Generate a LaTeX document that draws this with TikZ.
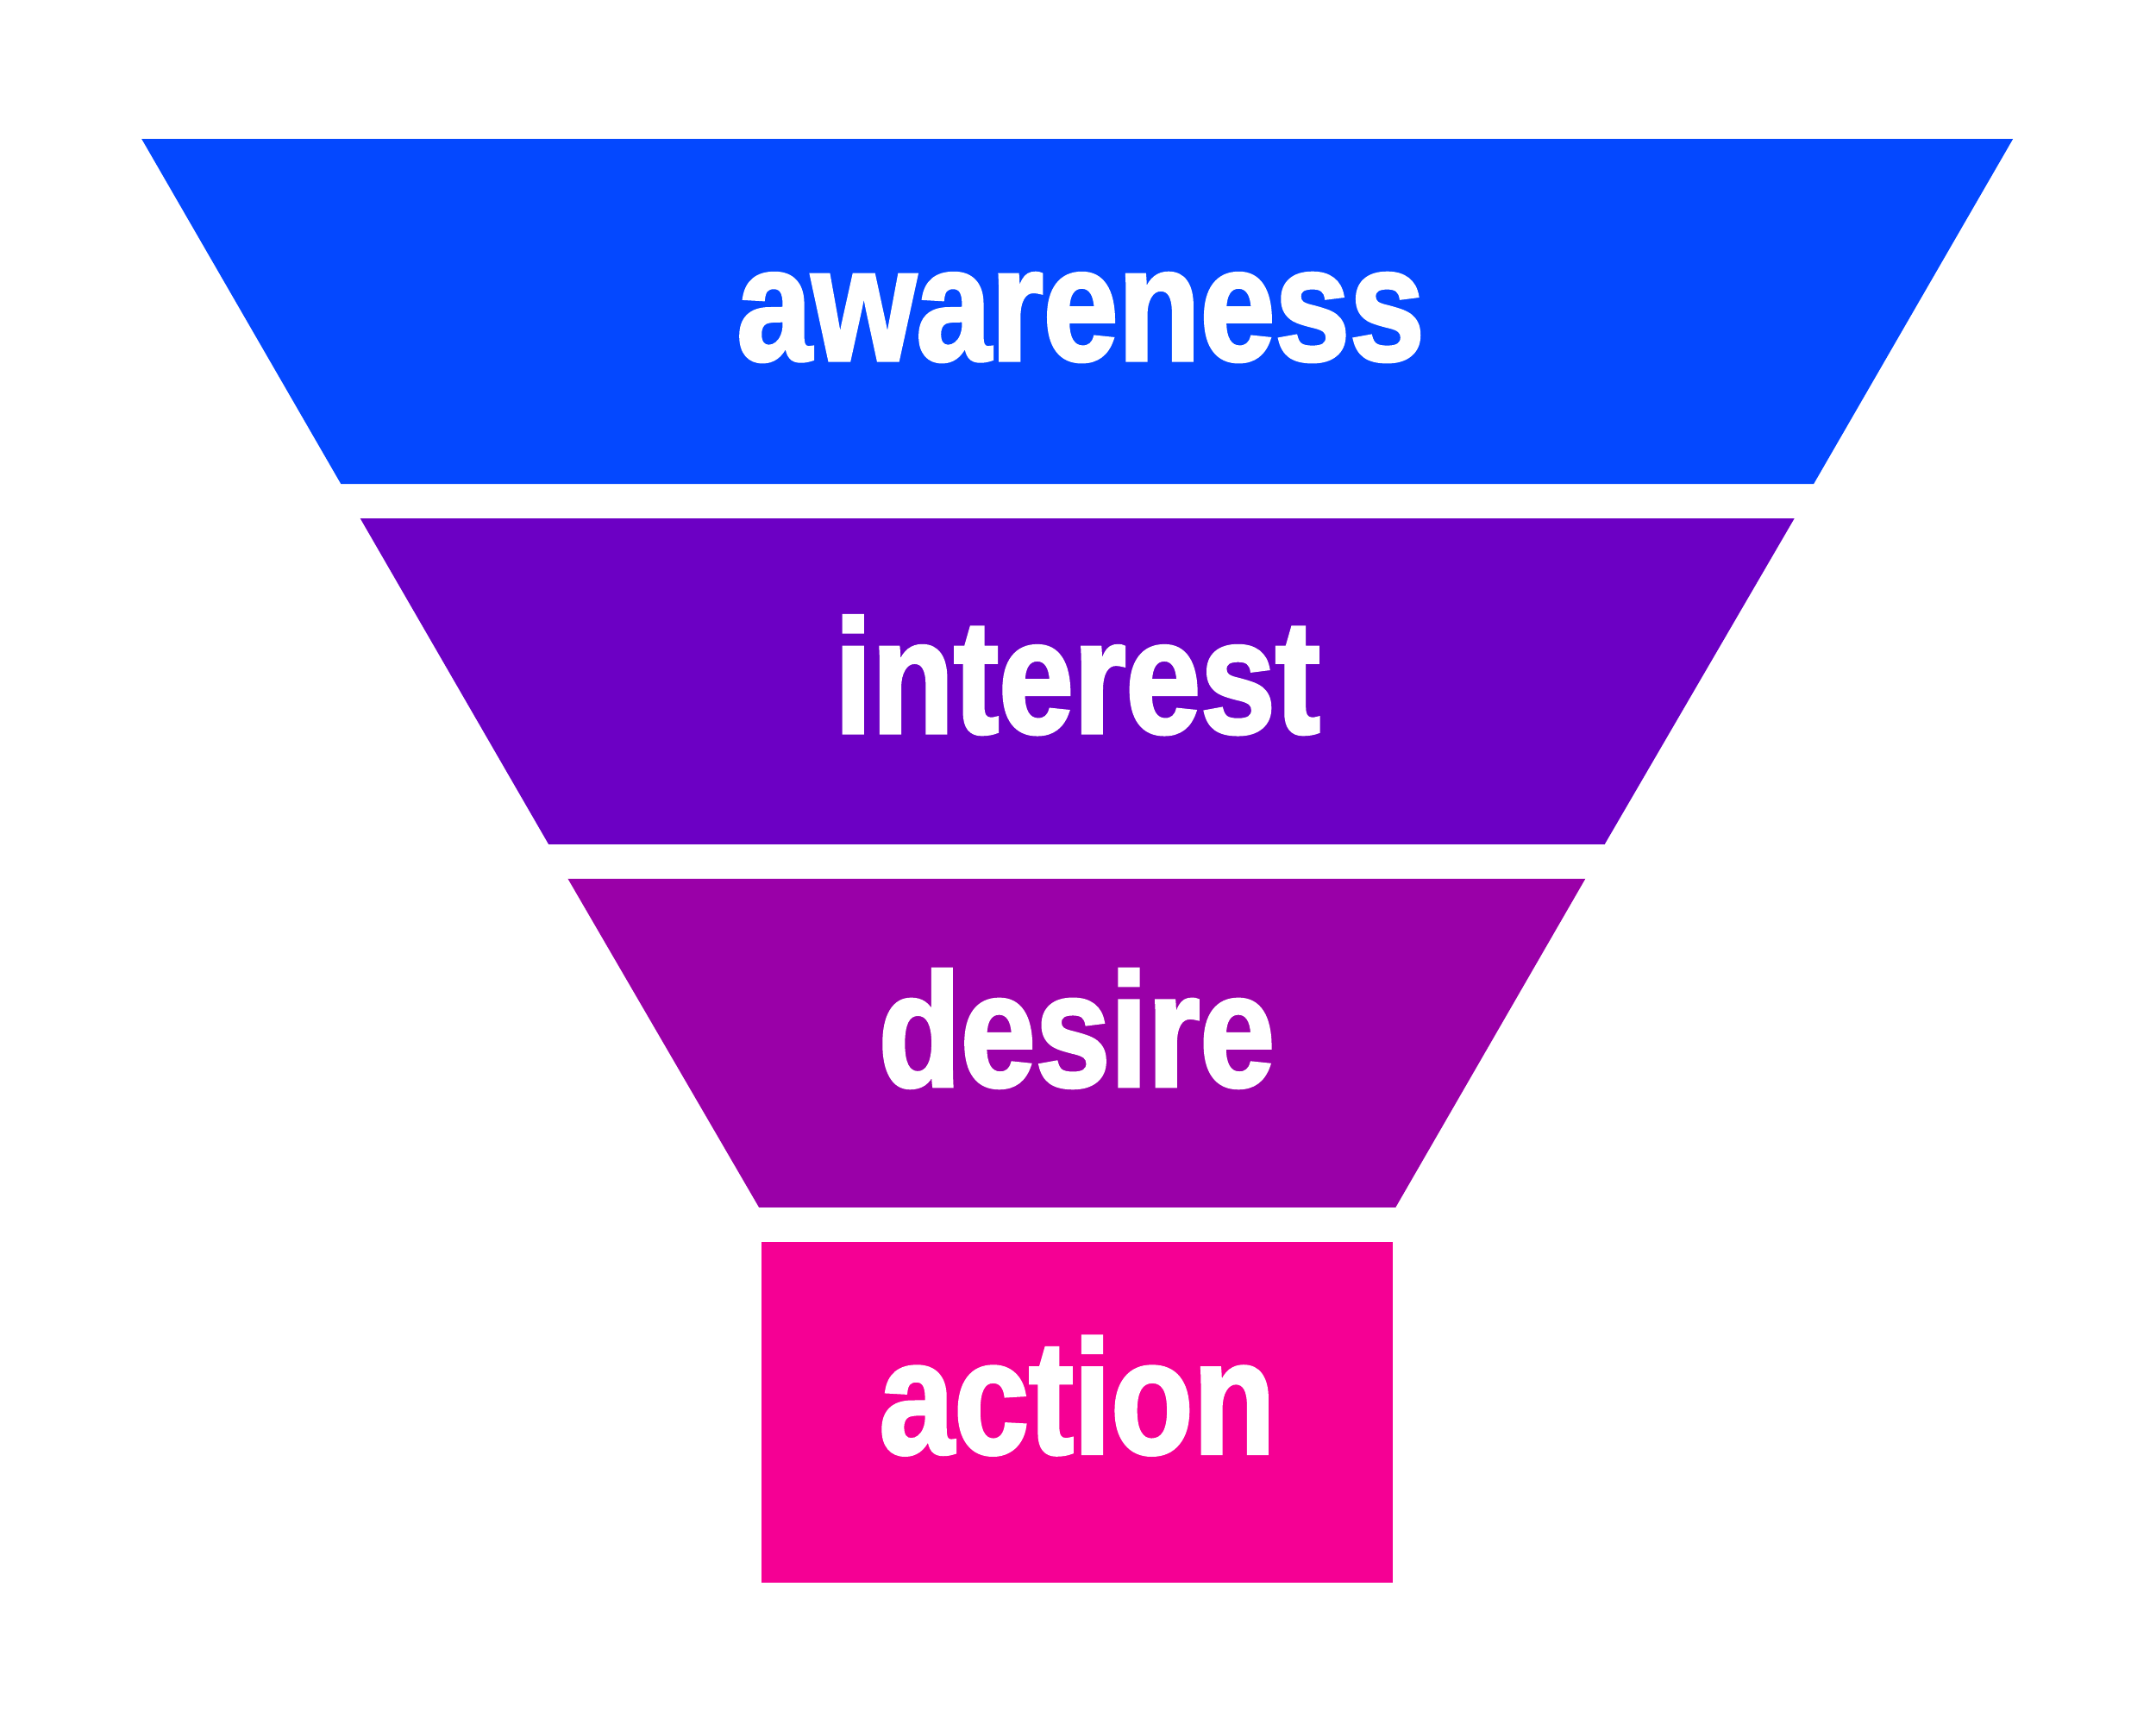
\documentclass[tikz,border=0pt]{standalone}
\usepackage{fontspec}
\newfontfamily\funnelfont[FakeStretch=0.83,BoldFeatures={FakeBold=2}]{Liberation Sans}
\definecolor{cAware}{RGB}{4,72,255}
\definecolor{cInterest}{RGB}{108,0,196}
\definecolor{cDesire}{RGB}{154,0,168}
\definecolor{cAction}{RGB}{245,0,148}
\begin{document}
\begin{tikzpicture}[x=0.01cm,y=-0.01cm,
  label/.style={text=white,font=\funnelfont\bfseries\fontsize{33.5}{40}\selectfont,anchor=base,inner sep=0pt}]
\useasboundingbox (0,0) rectangle (1568,1254);
\fill[white] (0,0) rectangle (1568,1254);
\fill[cAware] (103,101) -- (1464,101) -- (1319,352) -- (248,352) -- cycle;
\fill[cInterest] (262,377) -- (1305,377) -- (1167,614) -- (399,614) -- cycle;
\fill[cDesire] (413,639) -- (1153,639) -- (1015,878) -- (552,878) -- cycle;
\fill[cAction] (554,903) rectangle (1013,1151);
\node[label] (aware) at (786,262) {awareness};
\node[label] (interest) at (783.5,533) {interest};
\node[label] (desire) at (783,790) {desire};
\node[label] (action) at (783.5,1057) {action};
\end{tikzpicture}
\end{document}
